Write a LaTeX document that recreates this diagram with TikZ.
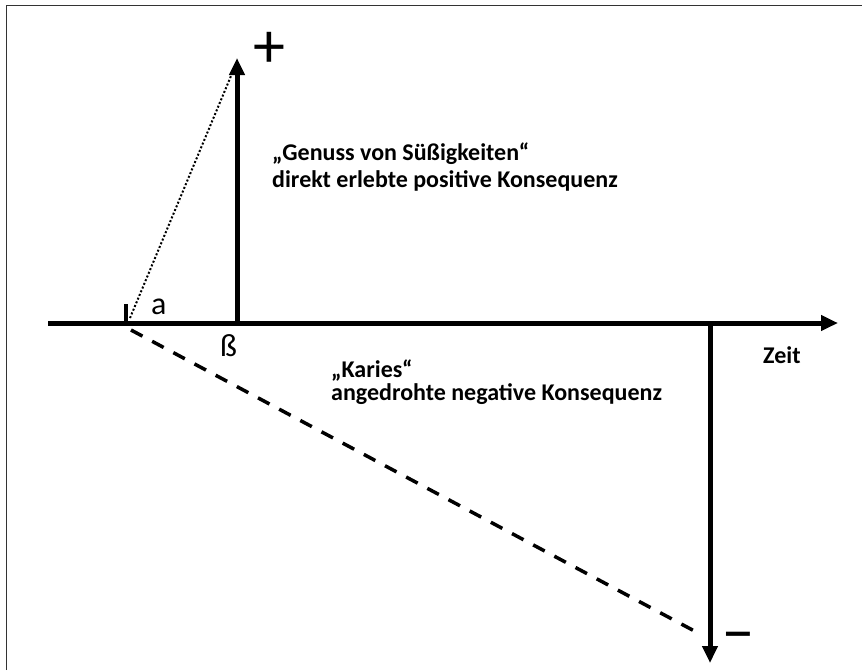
\documentclass[tikz,border=0pt]{standalone}
\usepackage{fontspec}
\setmainfont{Carlito}
\usetikzlibrary{arrows.meta}
\begin{document}
\begin{tikzpicture}[x=1pt, y=-1pt, >={Triangle[length=17pt, width=15pt]}, line join=miter, font=\bfseries\fontsize{24}{24}\selectfont]
				\tikzset{axis/.style={line width=5pt}, label/.style={anchor=base west, inner sep=0pt}, greek/.style={font=\mdseries\fontsize{32}{32}\selectfont, anchor=base west, inner sep=0pt}, sign/.style={font=\mdseries\fontsize{64}{64}\selectfont}}
				\useasboundingbox (0,0) rectangle (862,670);
				\draw [line width=1pt, black!80] (6,670)--(6,5)--(862,5);
				\coordinate (A) at (48,323);
				\coordinate (Z) at (838,323);
				\coordinate (O) at (126,323);
				\coordinate (T) at (126,304);
				\coordinate (B) at (237,323);
				\coordinate (P) at (237,58);
				\coordinate (C) at (710,323);
				\coordinate (M) at (710,663);
				\coordinate (d1) at (130,318);
				\coordinate (d2) at (236,64);
				\coordinate (k1) at (131,330);
				\coordinate (k2) at (700,634);
				\draw [->, axis] (A)--(Z);
				\draw [->, axis] (B)--(P);
				\draw [->, axis] (C)--(M);
				\draw [line width=4pt] (O)--(T);
				\draw [dash pattern=on 2pt off 2pt, line width=2pt] (d1)--(d2);
				\draw [dash pattern=on 13pt off 11pt, line width=3.5pt] (k1)--(k2);
				\node [sign] (plus) at (269,50) {+};
				\node [sign] (minus) at (738,643) {−};
				\node [greek] (alpha) at (151,314) {a};
				\node [greek] (beta) at (220,356) {ß};
				\node [label] (zeit) at (763,363) {Zeit};
				\node [label] (pos1) at (272,160) {„Genuss von Süßigkeiten“};
				\node [label] (pos2) at (272,187) {direkt erlebte positive Konsequenz};
				\node [label] (neg1) at (331,377) {„Karies“};
				\node [label] (neg2) at (331,400) {angedrohte negative Konsequenz};
			\end{tikzpicture}
\end{document}
